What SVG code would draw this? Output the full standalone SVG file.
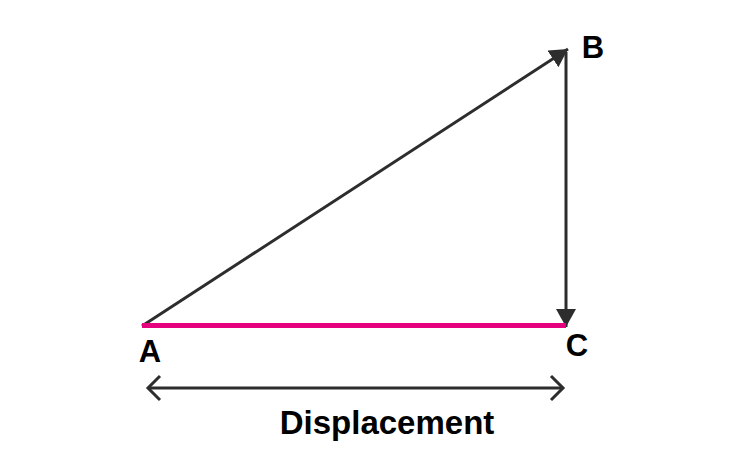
<svg xmlns="http://www.w3.org/2000/svg" width="750" height="469" viewBox="0 0 750 469">
<style>
.ln{stroke:#2d2d2d;stroke-width:3;fill:none}
.lbl{font-family:"Liberation Sans",Arial,sans-serif;font-weight:bold;fill:#000}
</style>
<defs>
<marker id="tri" markerUnits="userSpaceOnUse" markerWidth="22" markerHeight="22" refX="18" refY="10" orient="auto">
<path d="M0,0 L18,10 L0,20 Z" fill="#2d2d2d"/>
</marker>
<marker id="chev" markerUnits="userSpaceOnUse" markerWidth="20" markerHeight="30" refX="14" refY="14" orient="auto-start-reverse">
<path d="M2,2 L14,14 L2,26" fill="none" stroke="#2d2d2d" stroke-width="3"/>
</marker>
</defs>
<rect width="750" height="469" fill="#fff"/>
<g id="connectors">
<line class="ln" x1="142" y1="326" x2="568" y2="49" marker-end="url(#tri)"/>
<line class="ln" x1="566" y1="52" x2="566" y2="327" marker-end="url(#tri)"/>
<line x1="142" y1="325.5" x2="566" y2="325.5" stroke="#e6007e" stroke-width="5"/>
<line class="ln" x1="148" y1="388" x2="563" y2="388" marker-start="url(#chev)" marker-end="url(#chev)"/>
</g>
<g id="A"><text class="lbl" x="150" y="362" font-size="31" text-anchor="middle">A</text></g>
<g id="B"><text class="lbl" x="593" y="58" font-size="31" text-anchor="middle">B</text></g>
<g id="C"><text class="lbl" x="577" y="356" font-size="31" text-anchor="middle">C</text></g>
<g id="label"><text class="lbl" x="387" y="434" font-size="33" text-anchor="middle">Displacement</text></g>
</svg>
